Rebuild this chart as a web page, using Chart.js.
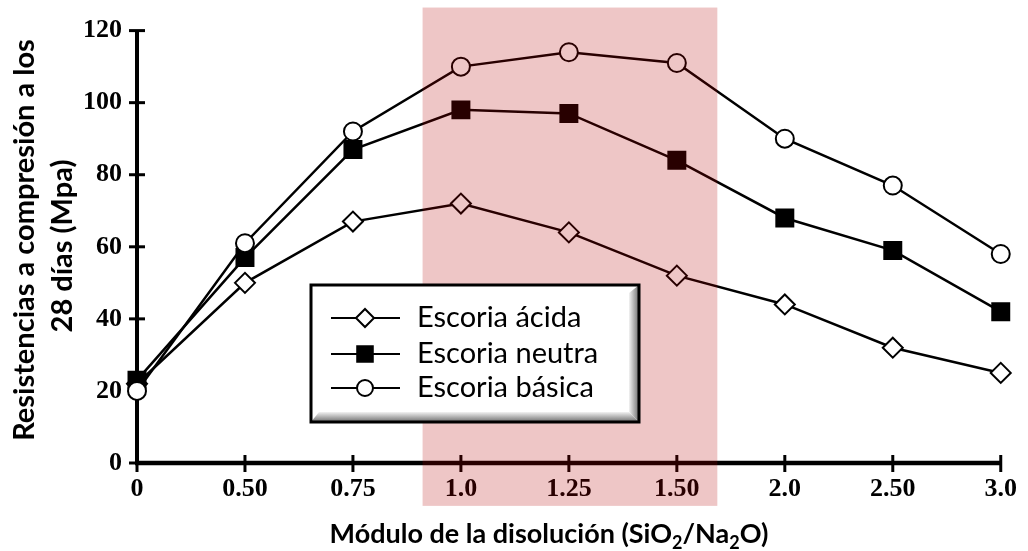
<!DOCTYPE html>
<html>
<head>
<meta charset="utf-8">
<script src="https://cdn.jsdelivr.net/npm/chart.js@4/dist/chart.umd.min.js"></script>
<style>
  html, body { margin: 0; padding: 0; background: #fff; }
  #wrap { width: 1028px; height: 551px; }
</style>
</head>
<body>
<div id="wrap"><canvas id="c" width="1028" height="551"></canvas></div>
<script>
// Módulo de la disolución (categorías del eje X)
const modulos = ['0', '0.50', '0.75', '1.0', '1.25', '1.50', '2.0', '2.50', '3.0'];
// Resistencia a compresión a 28 días (MPa)
const escoriaAcida  = [22, 50, 67, 72, 64, 52, 44, 32, 25];
const escoriaNeutra = [23, 57, 87, 98, 97, 84, 68, 59, 42];
const escoriaBasica = [20, 61, 92, 110, 114, 111, 90, 77, 58];
const yTicks = [0, 20, 40, 60, 80, 100, 120];
// Zona óptima sombreada (en posiciones de categoría)
const zonaDesde = 2.645, zonaHasta = 5.375;
const zonaArriba = 126.4, zonaAbajo = -11.9;

const serieNombres = ['Escoria ácida', 'Escoria neutra', 'Escoria básica'];

const TICK_FONT = { family: 'Liberation Serif', weight: 'bold', size: 26 };
const SANS = 'Lato, "Open Sans", sans-serif';

// Ejes con marcas que cruzan la línea
const ejesPlugin = {
  id: 'ejes',
  beforeDatasetsDraw(chart) {
    const { ctx, scales: { x, y } } = chart;
    const x0 = x.getPixelForValue(0), x1 = x.getPixelForValue(modulos.length - 1);
    const yb = y.getPixelForValue(0), yt = y.getPixelForValue(120);
    ctx.save();
    ctx.strokeStyle = '#000';
    ctx.lineCap = 'butt';
    ctx.lineWidth = 4;
    ctx.beginPath(); ctx.moveTo(x0, yt); ctx.lineTo(x0, yb + 2); ctx.stroke();
    ctx.lineWidth = 4.5;
    ctx.beginPath(); ctx.moveTo(x0 - 2, yb); ctx.lineTo(x1 + 1, yb); ctx.stroke();
    ctx.lineWidth = 3;
    yTicks.forEach(v => {
      const p = y.getPixelForValue(v);
      ctx.beginPath(); ctx.moveTo(x0 - 8, p); ctx.lineTo(x0 + 8, p); ctx.stroke();
    });
    modulos.forEach((m, i) => {
      const p = x.getPixelForValue(i);
      ctx.beginPath(); ctx.moveTo(p, yb - 8); ctx.lineTo(p, yb + 9); ctx.stroke();
    });
    ctx.restore();
  }
};

// Banda rosada translúcida, leyenda y títulos de ejes
const decoracionPlugin = {
  id: 'decoracion',
  afterDraw(chart) {
    const { ctx, scales: { x, y } } = chart;
    ctx.save();
    // banda
    const bx0 = x.getPixelForValue(zonaDesde), bx1 = x.getPixelForValue(zonaHasta);
    const by0 = y.getPixelForValue(zonaArriba), by1 = y.getPixelForValue(zonaAbajo);
    ctx.fillStyle = 'rgba(179,0,0,0.224)';
    ctx.fillRect(bx0, by0, bx1 - bx0, by1 - by0);

    // leyenda
    const L = 311, T = 285, W = 328, H = 137;
    ctx.fillStyle = '#fff';
    ctx.fillRect(L, T, W, H);
    // relieve gris inferior y derecho
    let g = ctx.createLinearGradient(0, T + H - 11, 0, T + H);
    g.addColorStop(0, 'rgba(255,255,255,1)');
    g.addColorStop(1, 'rgba(110,110,110,1)');
    ctx.fillStyle = g;
    ctx.beginPath();
    ctx.moveTo(L, T + H); ctx.lineTo(L + 8, T + H - 10); ctx.lineTo(L + W - 10, T + H - 10); ctx.lineTo(L + W, T + H);
    ctx.closePath(); ctx.fill();
    g = ctx.createLinearGradient(L + W - 11, 0, L + W, 0);
    g.addColorStop(0, 'rgba(255,255,255,1)');
    g.addColorStop(1, 'rgba(110,110,110,1)');
    ctx.fillStyle = g;
    ctx.beginPath();
    ctx.moveTo(L + W, T); ctx.lineTo(L + W - 10, T + 8); ctx.lineTo(L + W - 10, T + H - 10); ctx.lineTo(L + W, T + H);
    ctx.closePath(); ctx.fill();
    ctx.strokeStyle = '#000';
    ctx.lineWidth = 3;
    ctx.strokeRect(L, T, W, H);

    const filas = [318, 354, 388];
    chart.data.datasets.slice().sort((a, b) => a.legendIndex - b.legendIndex).forEach((ds, i) => {
      const cy = filas[i];
      ctx.strokeStyle = '#000';
      ctx.lineWidth = 2;
      ctx.beginPath(); ctx.moveTo(331, cy); ctx.lineTo(400, cy); ctx.stroke();
      ctx.fillStyle = ds.pointBackgroundColor;
      ctx.strokeStyle = '#000';
      ctx.lineWidth = 2;
      Chart.helpers.drawPoint(ctx, { pointStyle: ds.pointStyle, radius: ds.legendRadius, borderWidth: 2 }, 365, cy);
      ctx.fillStyle = '#000';
      ctx.font = '29px ' + SANS;
      ctx.textBaseline = 'middle';
      ctx.textAlign = 'left';
      ctx.fillText(ds.label, 417, cy);
    });

    // título eje Y (dos líneas, girado)
    ctx.fillStyle = '#000';
    ctx.font = 'bold 29px ' + SANS;
    ctx.textAlign = 'center';
    ctx.textBaseline = 'middle';
    ctx.save();
    ctx.translate(25, 240);
    ctx.rotate(-Math.PI / 2);
    ctx.fillText('Resistencias a compresión a los', 0, 0);
    ctx.restore();
    ctx.save();
    ctx.translate(63, 246);
    ctx.rotate(-Math.PI / 2);
    ctx.fillText('28 días (Mpa)', 0, 0);
    ctx.restore();

    // título eje X con subíndices
    const partes = [
      ['Módulo de la disolución (SiO', false], ['2', true], ['/Na', false], ['2', true], ['O)', false]
    ];
    const fNorm = 'bold 27px ' + SANS, fSub = 'bold 18px ' + SANS;
    let total = 0;
    partes.forEach(([t, sub]) => { ctx.font = sub ? fSub : fNorm; total += ctx.measureText(t).width; });
    let cx = 549 - total / 2;
    const base = 543;
    ctx.textAlign = 'left';
    ctx.textBaseline = 'alphabetic';
    partes.forEach(([t, sub]) => {
      ctx.font = sub ? fSub : fNorm;
      ctx.fillText(t, cx, sub ? base + 6 : base);
      cx += ctx.measureText(t).width;
    });
    ctx.restore();
  }
};

const comun = {
  borderColor: '#000',
  borderWidth: 2.5,
  pointBorderColor: '#000',
  pointBorderWidth: 2,
  pointHoverRadius: 9,
  tension: 0,
  clip: false,
  fill: false
};

new Chart(document.getElementById('c'), {
  type: 'line',
  data: {
    labels: modulos,
    datasets: [
      Object.assign({}, comun, {
        label: serieNombres[2], data: escoriaBasica, order: 0, legendIndex: 2,
        pointStyle: 'circle', pointRadius: 9, legendRadius: 8, pointBackgroundColor: '#fff'
      }),
      Object.assign({}, comun, {
        label: serieNombres[1], data: escoriaNeutra, order: 1, legendIndex: 1,
        pointStyle: 'rect', pointRadius: 12, legendRadius: 11, pointBackgroundColor: '#000'
      }),
      Object.assign({}, comun, {
        label: serieNombres[0], data: escoriaAcida, order: 2, legendIndex: 0,
        pointStyle: 'rectRot', pointRadius: 10, legendRadius: 9, pointBackgroundColor: '#fff'
      })
    ]
  },
  options: {
    responsive: false,
    animation: false,
    events: [],
    layout: { padding: { left: 0, top: 30, right: 19, bottom: 0 } },
    plugins: { legend: { display: false }, tooltip: { enabled: false } },
    scales: {
      x: {
        type: 'category',
        offset: false,
        grid: { display: false, drawTicks: false },
        border: { display: false },
        ticks: { color: '#000', font: TICK_FONT, padding: 11, maxRotation: 0, autoSkip: false },
        afterFit(s) { s.height = 88; }
      },
      y: {
        min: 0, max: 120,
        grid: { display: false, drawTicks: false },
        border: { display: false },
        ticks: { color: '#000', font: TICK_FONT, padding: 15, stepSize: 20 },
        afterFit(s) { s.width = 137; }
      }
    }
  },
  plugins: [ejesPlugin, decoracionPlugin]
});
</script>
</body>
</html>
